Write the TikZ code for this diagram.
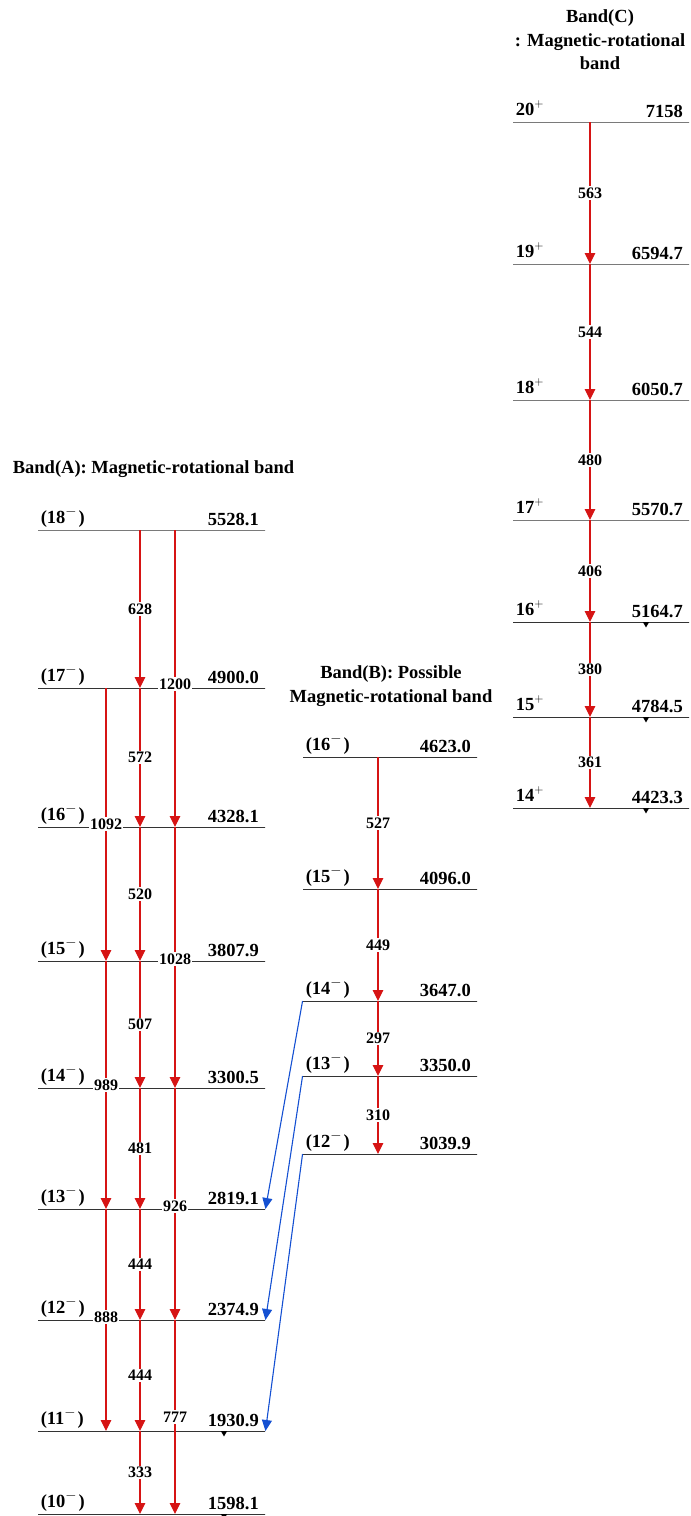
\documentclass[tikz,border=0pt]{standalone}
\usepackage{fontspec}
\setmainfont{Liberation Serif}
\usetikzlibrary{arrows.meta,shapes.geometric}
\definecolor{tred}{RGB}{214,20,20}
\definecolor{tblue}{RGB}{20,80,210}
\newcommand\spm[1]{(#1\raisebox{0.4em}{\fontsize{13.5}{14}\selectfont$-$}\hspace{2pt})}
\newcommand\spp[1]{#1\raisebox{0.4em}{\fontsize{11.5}{12}\selectfont$+$}}
\newcommand\mylevel[6]{%
  \node[lvl=#4] (#1) at (#2,#3) {};
  \node[lab, anchor=base west] at ([xshift=3pt,yshift=7pt]#1.west) {#5};
  \node[lab, anchor=base east] at ([xshift=-6.5pt,yshift=5pt]#1.east) {#6};}
\begin{document}
\begin{tikzpicture}[x=1pt,y=-1pt,
  lvl/.style={draw=black!80, line width=0.9pt, inner sep=0pt, minimum height=0pt, minimum width=#1},
  lab/.style={font=\fontsize{18.5}{21}\selectfont\bfseries, inner sep=0pt},
  tl/.style={font=\fontsize{16}{18}\selectfont\bfseries, fill=white, inner xsep=1pt, inner ysep=1.5pt},
  ttl/.style={font=\fontsize{18.5}{23.5}\selectfont\bfseries, align=center, inner sep=0pt},
  tr/.style={draw=tred, line width=1.2pt, -{Triangle[length=11pt,width=10.5pt]}},
  trb/.style={draw=tblue, line width=1.1pt, -{Triangle[length=11pt,width=10pt]}},
  tri/.style={fill=black, regular polygon, regular polygon sides=3, shape border rotate=180, inner sep=0pt, minimum size=7pt, anchor=north}]
\useasboundingbox (0,0) rectangle (691,1516);
% titles
\node[ttl] (tA) at (153.5,469) {Band(A): Magnetic-rotational band};
\node[ttl] (tB) at (391,686) {Band(B): Possible\\Magnetic-rotational band};
\node[ttl] (tC) at (600,40) {Band(C)\\: Magnetic-rotational\\band};
% columns
\coordinate (cA1) at (106,0);
\coordinate (cA2) at (140,0);
\coordinate (cA3) at (175,0);
\coordinate (cB) at (378,0);
\coordinate (cC) at (590,0);
\coordinate (mA) at (224,0);
\coordinate (mC) at (646,0);
% band A levels
\mylevel{A18}{151.5}{530}{227pt}{\spm{18}}{5528.1}
\mylevel{A17}{151.5}{688}{227pt}{\spm{17}}{4900.0}
\mylevel{A16}{151.5}{827}{227pt}{\spm{16}}{4328.1}
\mylevel{A15}{151.5}{961}{227pt}{\spm{15}}{3807.9}
\mylevel{A14}{151.5}{1088}{227pt}{\spm{14}}{3300.5}
\mylevel{A13}{151.5}{1209}{227pt}{\spm{13}}{2819.1}
\mylevel{A12}{151.5}{1320}{227pt}{\spm{12}}{2374.9}
\mylevel{A11}{151.5}{1431}{227pt}{\spm{11}}{1930.9}
\mylevel{A10}{151.5}{1514}{227pt}{\spm{10}}{1598.1}
% band B levels
\mylevel{B16}{390}{757}{174pt}{\spm{16}}{4623.0}
\mylevel{B15}{390}{889}{174pt}{\spm{15}}{4096.0}
\mylevel{B14}{390}{1001}{174pt}{\spm{14}}{3647.0}
\mylevel{B13}{390}{1076}{174pt}{\spm{13}}{3350.0}
\mylevel{B12}{390}{1154}{174pt}{\spm{12}}{3039.9}
% band C levels
\mylevel{C20}{601}{122}{176pt}{\spp{20}}{7158}
\mylevel{C19}{601}{264}{176pt}{\spp{19}}{6594.7}
\mylevel{C18}{601}{400}{176pt}{\spp{18}}{6050.7}
\mylevel{C17}{601}{520}{176pt}{\spp{17}}{5570.7}
\mylevel{C16}{601}{622}{176pt}{\spp{16}}{5164.7}
\mylevel{C15}{601}{717}{176pt}{\spp{15}}{4784.5}
\mylevel{C14}{601}{808}{176pt}{\spp{14}}{4423.3}
% markers
\node[tri] (m1) at (A11 -| mA) {};
\node[tri] (m2) at (A10 -| mA) {};
\node[tri] (m3) at (C16 -| mC) {};
\node[tri] (m4) at (C15 -| mC) {};
\node[tri] (m5) at (C14 -| mC) {};
% band A transitions
\draw[tr] (A18 -| cA2) -- (A17 -| cA2);
\draw[tr] (A17 -| cA2) -- (A16 -| cA2);
\draw[tr] (A16 -| cA2) -- (A15 -| cA2);
\draw[tr] (A15 -| cA2) -- (A14 -| cA2);
\draw[tr] (A14 -| cA2) -- (A13 -| cA2);
\draw[tr] (A13 -| cA2) -- (A12 -| cA2);
\draw[tr] (A12 -| cA2) -- (A11 -| cA2);
\draw[tr] (A11 -| cA2) -- (A10 -| cA2);
\draw[tr] (A17 -| cA1) -- (A15 -| cA1);
\draw[tr] (A15 -| cA1) -- (A13 -| cA1);
\draw[tr] (A13 -| cA1) -- (A11 -| cA1);
\draw[tr] (A18 -| cA3) -- (A16 -| cA3);
\draw[tr] (A16 -| cA3) -- (A14 -| cA3);
\draw[tr] (A14 -| cA3) -- (A12 -| cA3);
\draw[tr] (A12 -| cA3) -- (A10 -| cA3);
% band B transitions
\draw[tr] (B16 -| cB) -- (B15 -| cB);
\draw[tr] (B15 -| cB) -- (B14 -| cB);
\draw[tr] (B14 -| cB) -- (B13 -| cB);
\draw[tr] (B13 -| cB) -- (B12 -| cB);
% band C transitions
\draw[tr] (C20 -| cC) -- (C19 -| cC);
\draw[tr] (C19 -| cC) -- (C18 -| cC);
\draw[tr] (C18 -| cC) -- (C17 -| cC);
\draw[tr] (C17 -| cC) -- (C16 -| cC);
\draw[tr] (C16 -| cC) -- (C15 -| cC);
\draw[tr] (C15 -| cC) -- (C14 -| cC);
% B -> A links
\draw[trb] (B14.west) -- (A13.east);
\draw[trb] (B13.west) -- (A12.east);
\draw[trb] (B12.west) -- (A11.east);
% labels
\path (A18 -| cA2) -- node[tl]{628} (A17 -| cA2);
\path (A17 -| cA2) -- node[tl]{572} (A16 -| cA2);
\path (A16 -| cA2) -- node[tl]{520} (A15 -| cA2);
\path (A15 -| cA2) -- node[tl]{507} (A14 -| cA2);
\path (A14 -| cA2) -- node[tl]{481} (A13 -| cA2);
\path (A13 -| cA2) -- node[tl]{444} (A12 -| cA2);
\path (A12 -| cA2) -- node[tl]{444} (A11 -| cA2);
\path (A11 -| cA2) -- node[tl]{333} (A10 -| cA2);
\node[tl] (l1092) at ([yshift=3pt]A16 -| cA1) {1092};
\node[tl] (l989) at ([yshift=3pt]A14 -| cA1) {989};
\node[tl] (l888) at ([yshift=3pt]A12 -| cA1) {888};
\node[tl] (l1200) at ([yshift=4pt]A17 -| cA3) {1200};
\node[tl] (l1028) at ([yshift=2pt]A15 -| cA3) {1028};
\node[tl] (l926) at ([yshift=3pt]A13 -| cA3) {926};
\node[tl] (l777) at ([yshift=14pt]A11 -| cA3) {777};
\path (B16 -| cB) -- node[tl]{527} (B15 -| cB);
\path (B15 -| cB) -- node[tl]{449} (B14 -| cB);
\path (B14 -| cB) -- node[tl]{297} (B13 -| cB);
\path (B13 -| cB) -- node[tl]{310} (B12 -| cB);
\path (C20 -| cC) -- node[tl]{563} (C19 -| cC);
\path (C19 -| cC) -- node[tl]{544} (C18 -| cC);
\path (C18 -| cC) -- node[tl]{480} (C17 -| cC);
\path (C17 -| cC) -- node[tl]{406} (C16 -| cC);
\path (C16 -| cC) -- node[tl]{380} (C15 -| cC);
\path (C15 -| cC) -- node[tl]{361} (C14 -| cC);
\end{tikzpicture}
\end{document}
